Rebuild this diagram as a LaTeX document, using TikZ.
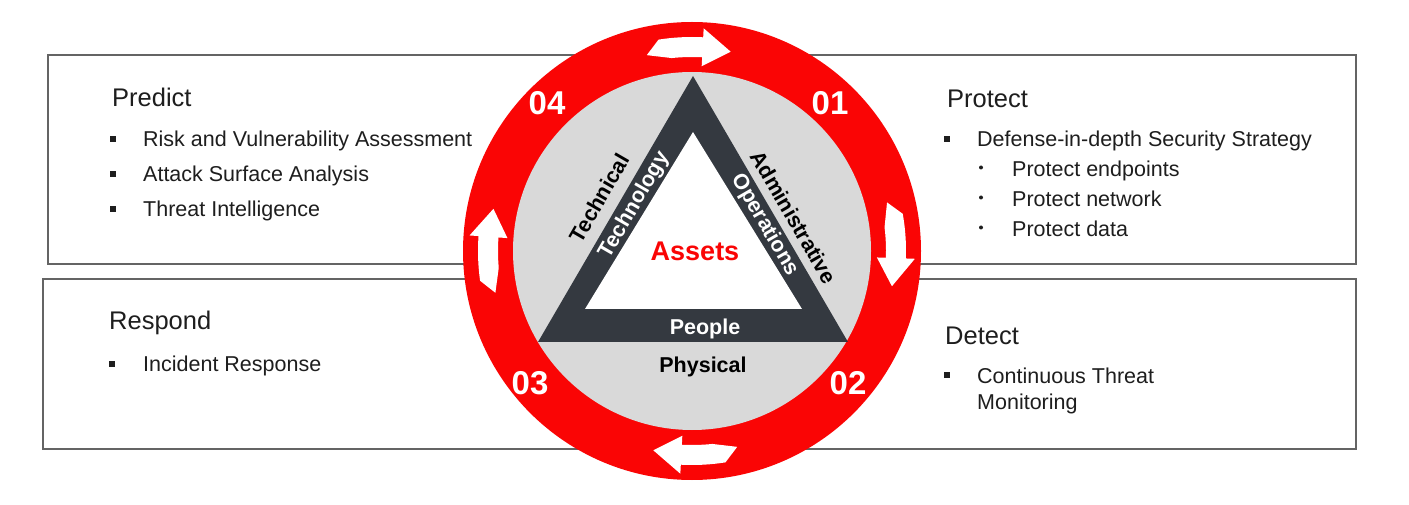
\documentclass[tikz,border=0pt]{standalone}
\usepackage{fontspec}
\setmainfont{Liberation Sans}
\usetikzlibrary{calc}
\definecolor{ringred}{RGB}{250,5,5}
\definecolor{discgray}{RGB}{217,217,217}
\definecolor{tridark}{RGB}{52,57,64}
\definecolor{txt}{RGB}{30,30,30}
\definecolor{boxline}{RGB}{100,100,100}
\begin{document}
\begin{tikzpicture}[x=1pt,y=1pt,
 panel/.style={draw=boxline, line width=1.4pt, fill=white},
 title/.style={anchor=base west, inner sep=0, text=txt, font=\fontsize{25.5}{30}\selectfont},
 item/.style={anchor=base west, inner sep=0, text=txt, font=\fontsize{21.5}{25}\selectfont},
 sq/.style={fill=txt, inner sep=0, minimum size=6pt, shape=rectangle},
 dotb/.style={fill=txt, inner sep=0, minimum size=4pt, shape=circle},
 num/.style={text=white, font=\bfseries\fontsize{33}{36}\selectfont, inner sep=0, text height=23.8pt, text depth=0pt},
 band/.style={font=\bfseries\fontsize{21.5}{24}\selectfont, inner sep=0, text height=15.5pt, text depth=0pt},
]
\useasboundingbox (0,0) rectangle (1409,504);
\fill[white] (0,0) rectangle (1409,504);
% panels
\draw[panel] (48,449) rectangle (1356,240);
\draw[panel] (43,225) rectangle (1356,55);
% Predict
\node[title] (predict) at (112,397) {Predict};
\node[sq] (b1) at (113,365) {};
\node[item] (p1) at (143,357) {Risk and Vulnerability Assessment};
\node[sq] (b2) at (113,330) {};
\node[item] (p2) at (143,322) {Attack Surface Analysis};
\node[sq] (b3) at (113,295) {};
\node[item] (p3) at (143,287) {Threat Intelligence};
% Protect
\node[title] (protect) at (947,396) {Protect};
\node[sq] (b4) at (947,365) {};
\node[item] (q1) at (977,357) {Defense-in-depth Security Strategy};
\node[dotb] (d1) at (981,336.5) {};
\node[item] (q2) at (1012,327) {Protect endpoints};
\node[dotb] (d2) at (981,306.5) {};
\node[item] (q3) at (1012,297) {Protect network};
\node[dotb] (d3) at (981,276.5) {};
\node[item] (q4) at (1012,267) {Protect data};
% Respond
\node[title] (respond) at (109,175) {Respond};
\node[sq] (b5) at (112,140) {};
\node[item] (r1) at (143,132) {Incident Response};
% Detect
\node[title] (detect) at (945,160) {Detect};
\node[sq] (b6) at (947,129) {};
\node[item] (t1) at (977,121) {Continuous Threat};
\node[item] (t2) at (977,95) {Monitoring};
% wheel
\coordinate (C) at (692,253);
\fill[ringred] (C) circle[radius=229];
\fill[discgray] (C) circle[radius=179];
\begin{scope}[shift={(C)}]
\foreach \t in {91,2,-89,180}{
 \fill[white] ({\t+12}:201) -- ({\t+8}:214) arc[start angle={\t+8}, end angle={\t-4}, radius=214]
   -- ({\t-4}:223) -- ({\t-12}:203) -- ({\t-4}:185) -- ({\t-4}:194)
   arc[start angle={\t-4}, end angle={\t+5}, radius=194] -- cycle;
}
\end{scope}
\fill[tridark] (693,428) -- (538,162) -- (848,162) -- cycle;
\fill[white] (693,372) -- (585,195) -- (802,195) -- cycle;
% numbers
\node[num] (n4) at (547,401) {04};
\node[num] (n1) at (830,401) {01};
\node[num] (n3) at (530,121) {03};
\node[num] (n2) at (848,121) {02};
% labels
\node[band, text=white, rotate=60] (tech) at (633,300) {Technology};
\node[band, text=black, rotate=60] (techn) at (599,306) {Technical};
\node[band, text=white, rotate=-60] (ops) at (767,280) {Operations};
\node[band, text=black, rotate=-60] (adm) at (794,287) {Administrative};
\node[band, text=white] (people) at (705,177) {People};
\node[band, text=black] (phys) at (703,139) {Physical};
\node[inner sep=0, text=ringred, text height=19.4pt, text depth=0pt, font=\bfseries\fontsize{27}{30}\selectfont] (assets) at (695,253) {Assets};
\end{tikzpicture}
\end{document}
